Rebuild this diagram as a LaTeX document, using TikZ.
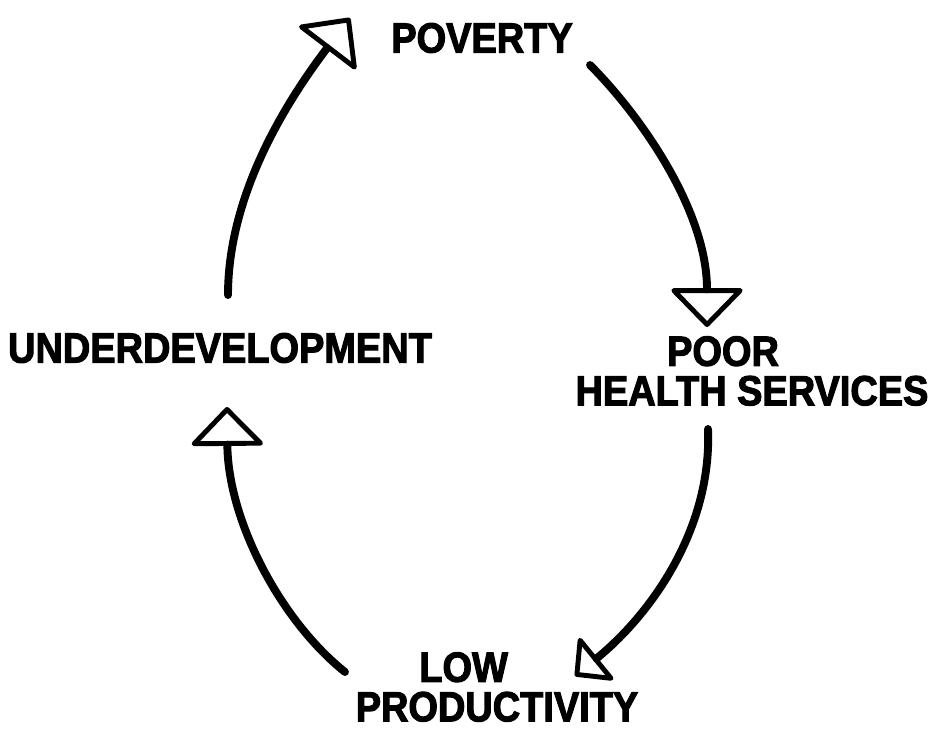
\documentclass[tikz,border=0pt]{standalone}
\usepackage{fontspec}
\usepackage{tikz}
\usetikzlibrary{arrows.meta}
\newfontfamily\lblfont[FakeStretch=0.9, FakeBold=2.5]{Liberation Sans}

\begin{document}
\begin{tikzpicture}[x=0.02cm, y=-0.02cm,
        lbl/.style={inner sep=0pt, align=center,
          font=\lblfont\bfseries\fontsize{24pt}{22.5pt}\selectfont},
        cyc/.style={line width=4.5pt, line cap=round,
          -{Triangle[open, length=0.8cm, width=1.54cm, line width=2.8pt, round]}}]
        % Fix the frame
        \useasboundingbox (0,0) rectangle (942,735);
        % The four stages of the circle
        \node[lbl] (pov) at (482,38) {POVERTY};
        \node[lbl] (poor) at (752,371) {POOR\hspace*{33pt}\\HEALTH SERVICES};
        \node[lbl] (low) at (497,687) {LOW\hspace*{38pt}\\PRODUCTIVITY};
        \node[lbl] (und) at (220,348) {UNDERDEVELOPMENT};
        % Arrows round the circle
        \draw[cyc] ([shift={(108,27)}]pov.center)
            .. controls (640,115) and (707,210) .. ([shift={(-45,-44)}]poor.center);
        \draw[cyc, -{Triangle[open, length=0.6cm, width=1.2cm, line width=2.8pt, round]}]
            ([shift={(-44,58)}]poor.center)
            .. controls (712,530) and (650,615) .. ([shift={(78,-11)}]low.center);
        \draw[cyc] ([shift={(-152,-15)}]low.center)
            .. controls (280,620) and (228,520) .. ([shift={(7,59)}]und.center);
        \draw[cyc] ([shift={(8,-53)}]und.center)
            .. controls (228,200) and (280,110) .. ([shift={(-132,-20)}]pov.center);
      \end{tikzpicture}
\end{document}
